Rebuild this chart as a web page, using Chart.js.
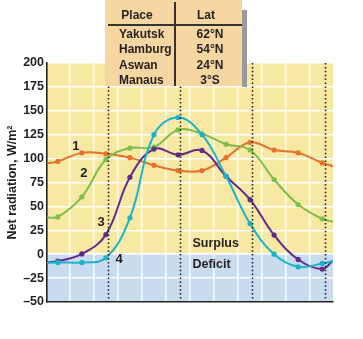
<!DOCTYPE html>
<html><head><meta charset="utf-8">
<script src="https://cdn.jsdelivr.net/npm/chart.js@4.4.0/dist/chart.umd.min.js"></script>
<style>
html,body{margin:0;padding:0;background:#fff;}
#wrap{position:relative;width:363px;height:339px;overflow:hidden;}
#c{position:absolute;left:0;top:0;}
#shadow{position:absolute;left:242px;top:10px;width:5px;height:77px;background:#9a9a9a;}
#tbl{position:absolute;left:105px;top:-2px;width:137px;height:88px;background:#f6d7a2;}
#tbl .t{position:absolute;height:14px;line-height:14px;font:bold 12px "Liberation Sans",Arial,sans-serif;color:#231f20;white-space:nowrap;}
#tbl .hl{position:absolute;left:3px;right:0;top:26px;height:1.5px;background:#333;}
#tbl .vl{position:absolute;left:69px;top:4px;bottom:0;width:1.5px;background:#333;}
</style></head><body>
<div id="wrap">
<canvas id="c" width="363" height="339"></canvas>
<div id="shadow"></div>
<div id="tbl"><div class="hl"></div><div class="vl"></div></div>
</div>
<script>
// ---- data ----
const months = ['Jan','Feb','Mar','Apr','May','Jun','Jul','Aug','Sep','Oct','Nov','Dec'];
const tableHeader = ['Place','Lat'];
const places = ['Yakutsk','Hamburg','Aswan','Manaus'];
const lats = ['62°N','54°N','24°N','3°S'];
const seriesLabels = ['1','2','3','4'];
// monthly net radiation, W/m² (mid-month values)
const curve1 = [97, 106, 105, 101, 93, 87.5, 87.5, 101, 117, 109, 106, 95.5];
const curve2 = [39, 60, 99, 111, 112, 130, 126, 115, 109, 78, 52, 37];
const curve3 = [-7.3, 0.3, 20.5, 80.5, 110, 104, 108.5, 81.5, 57, 20, -5.5, -15.6];
const curve4 = [-8.6, -8.6, -3.8, 38, 125, 143, 125, 81.5, 32, 0, -13.2, -9.7];
// values where each curve meets the left / right edge of the year
const curve1Edges = [95, 92];
const curve2Edges = [38.5, 34];
const curve3Edges = [-8.6, -6.5];
const curve4Edges = [-9, -7];
// solstice / equinox markers (month position, ~21st)
const seasonMarks = [2.1, 5.1, 8.1, 11.1];
const yTicks = [-50,-25,0,25,50,75,100,125,150,175,200];

// ---- table ----
const tbl = document.getElementById('tbl');
function addText(txt, cx, cy, align){
  const d = document.createElement('div');
  d.className = 't'; d.textContent = txt;
  d.style.top = (cy - 7 + 2) + 'px';
  if (align === 'center'){ d.style.left = (cx - 40) + 'px'; d.style.width='80px'; d.style.textAlign='center'; }
  else { d.style.left = cx + 'px'; }
  tbl.appendChild(d);
}
addText(tableHeader[0], 32, 15, 'center');
addText(tableHeader[1], 101, 15, 'center');
places.forEach((p,i)=>{ addText(p, 14, 34 + i*15.3, 'left'); addText(lats[i], 105, 34 + i*15.3, 'center'); });

// ---- chart ----
const X_MIN = -0.45, X_MAX = 11.45;
function build(vals, edges){
  const pts = [{x:X_MIN, y:edges[0]}];
  vals.forEach((v,i)=>pts.push({x:i, y:v}));
  pts.push({x:X_MAX, y:edges[1]});
  return pts;
}
const colors = ['#e5712b','#7dbf48','#612b8c','#1ab4c9'];
const allVals = [[curve1,curve1Edges],[curve2,curve2Edges],[curve3,curve3Edges],[curve4,curve4Edges]];
const datasets = allVals.map(([v,e],k)=>({
  label: seriesLabels[k],
  data: build(v,e),
  borderColor: colors[k],
  backgroundColor: colors[k],
  borderWidth: 2,
  tension: 0.4,
  pointRadius: ctx => (ctx.dataIndex === 0 || ctx.dataIndex === v.length+1) ? 0 : 2.6,
  pointBorderWidth: 0,
  fill: false
})).reverse();

const FONT = '"Liberation Sans", Arial, sans-serif';
const bgPlugin = {
  id:'bg',
  beforeDraw(chart){
    const {ctx, chartArea:a, scales:{y}} = chart;
    const y0 = y.getPixelForValue(0);
    ctx.save();
    ctx.fillStyle = '#f7e8a3';
    ctx.fillRect(a.left, a.top, a.right-a.left, y0-a.top);
    ctx.fillStyle = '#c9dcef';
    ctx.fillRect(a.left, y0, a.right-a.left, a.bottom-y0);
    ctx.restore();
  }
};
const overlayPlugin = {
  id:'overlay',
  afterDatasetsDraw(chart){
    const {ctx, chartArea:a, scales:{x,y}} = chart;
    ctx.save();
    ctx.strokeStyle = '#222';
    ctx.lineWidth = 1.6;
    ctx.setLineDash([1.5,2.4]);
    seasonMarks.forEach(m=>{
      const px = Math.round(x.getPixelForValue(m))+0.5;
      ctx.beginPath(); ctx.moveTo(px, a.top); ctx.lineTo(px, a.bottom); ctx.stroke();
    });
    ctx.setLineDash([]);
    ctx.fillStyle = '#231f20';
    ctx.textBaseline = 'middle';
    ctx.textAlign = 'center';
    ctx.font = 'bold 13px ' + FONT;
    const lab = [[0.75,113],[1.08,84],[1.8,33],[2.55,-5]];
    lab.forEach((p,i)=>ctx.fillText(seriesLabels[i], x.getPixelForValue(p[0]), y.getPixelForValue(p[1])));
    ctx.textAlign = 'left';
    ctx.font = 'bold 12.5px ' + FONT;
    ctx.fillText('Surplus', x.getPixelForValue(5.6), y.getPixelForValue(11.5));
    ctx.fillText('Deficit', x.getPixelForValue(5.6), y.getPixelForValue(-10.5));
    ctx.restore();
  }
};

new Chart(document.getElementById('c'), {
  type:'line',
  data:{datasets},
  plugins:[bgPlugin, overlayPlugin],
  options:{
    responsive:false,
    animation:false,
    devicePixelRatio:1,
    layout:{padding:{left:0, top:63, right:30, bottom:37}},
    plugins:{legend:{display:false}, tooltip:{enabled:false}},
    scales:{
      x:{
        type:'linear', min:X_MIN, max:X_MAX,
        afterBuildTicks(scale){ scale.ticks = months.slice(0,11).map((m,i)=>({value:i+0.5})); },
        ticks:{display:false},
        grid:{color:'rgba(255,255,255,0.95)', lineWidth:1.5, drawTicks:false},
        border:{color:'#222', width:1.6}
      },
      y:{
        min:-50, max:200,
        afterBuildTicks(scale){ scale.ticks = yTicks.map(v=>({value:v})); },
        afterFit(scale){ scale.width = 47; },
        ticks:{
          padding:3, color:'#231f20',
          font:{family:FONT, size:12.5, weight:'bold'},
          callback:v => v < 0 ? '–' + Math.abs(v) : String(v)
        },
        grid:{color:'rgba(255,255,255,0.95)', lineWidth:1.5, drawTicks:false},
        border:{color:'#222', width:1.6},
        title:{display:true, text:'Net radiation, W/m²', color:'#231f20',
          font:{family:FONT, size:12.5, weight:'bold'}, padding:{top:5,bottom:0}}
      }
    }
  }
});
</script>
</body></html>
